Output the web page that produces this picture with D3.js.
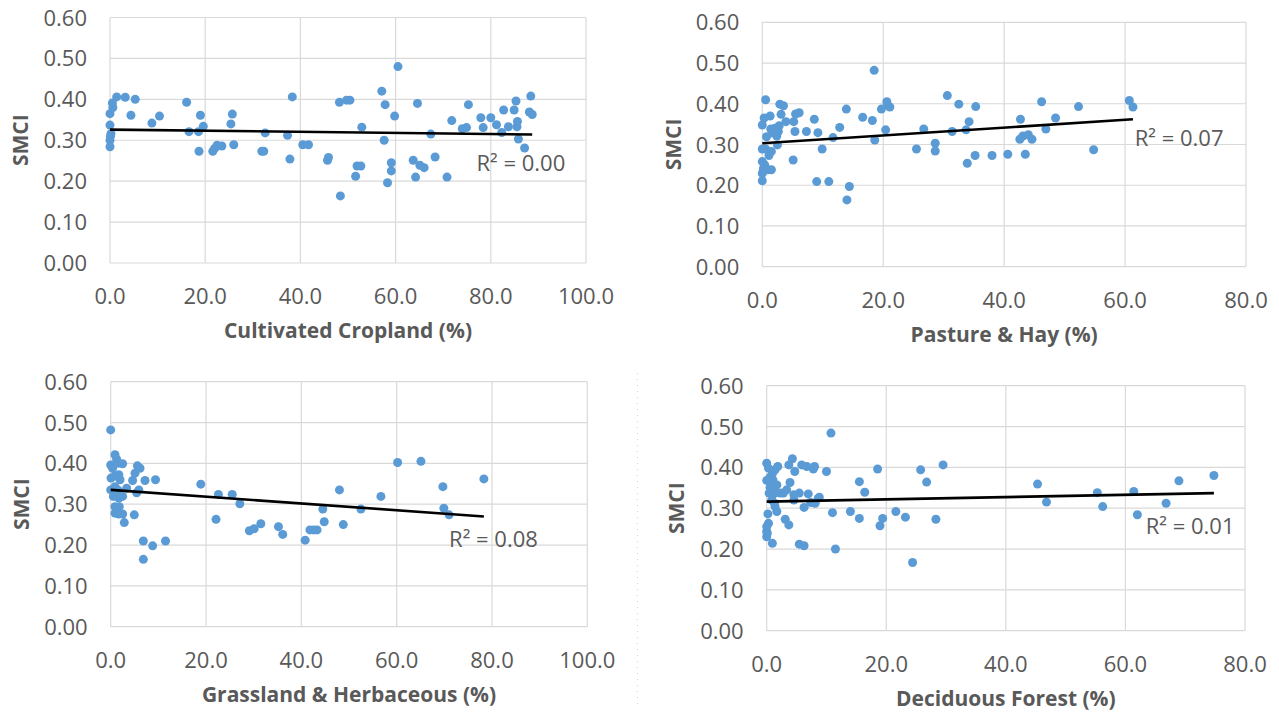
<!DOCTYPE html>
<meta charset="utf-8">
<script src="https://d3js.org/d3.v7.min.js"></script>
<style>
  body { margin: 0; background: #fff; }
  svg text { font-family: "Open Sans", sans-serif; fill: #595959; }
  .grid line { stroke: #d9d9d9; stroke-width: 1.2; }
  .tick-label { font-size: 22px; }
  .axis-title { font-size: 21px; font-weight: bold; }
  .r2 { font-size: 22px; }
</style>
<svg width="1279" height="712"></svg>
<script>
// values
var croplandPct = [0, 0, 0.1, 0.2, 0, 0, 0.6, 0.5, 1.4, 3.2, 4.4, 5.3, 8.8, 10.4, 16.1, 16.6, 18.6, 18.7, 19.0, 19.6,
  21.6, 22.0, 22.5, 23.5, 25.4, 25.7, 26.0, 31.9, 32.3, 32.6, 37.3, 37.8, 38.3, 40.5, 41.7, 45.7, 45.9, 48.2, 48.4, 49.7,
  50.4, 51.6, 51.9, 52.7, 52.9, 57.1, 57.6, 57.8, 58.3, 59.1, 59.1, 59.8, 60.5, 63.7, 64.2, 64.6, 65.1, 66.0, 67.4, 68.3,
  70.8, 71.8, 74.0, 74.9, 75.3, 77.9, 78.4, 80.0, 81.2, 82.3, 82.7, 83.7, 84.9, 85.3, 85.6, 85.5, 85.8, 87.1, 88.1, 88.7, 88.4];
var croplandSmci = [0.284, 0.300, 0.310, 0.316, 0.337, 0.365, 0.380, 0.391, 0.406, 0.405, 0.361, 0.400, 0.342, 0.359, 0.393, 0.321, 0.321, 0.273, 0.361, 0.334,
  0.273, 0.280, 0.288, 0.286, 0.340, 0.364, 0.289, 0.273, 0.273, 0.318, 0.312, 0.254, 0.406, 0.289, 0.289, 0.251, 0.258, 0.393, 0.164, 0.398,
  0.398, 0.212, 0.237, 0.237, 0.332, 0.420, 0.300, 0.387, 0.196, 0.245, 0.225, 0.359, 0.480, 0.251, 0.210, 0.390, 0.239, 0.233, 0.315, 0.259,
  0.210, 0.348, 0.328, 0.331, 0.387, 0.355, 0.331, 0.355, 0.338, 0.319, 0.374, 0.333, 0.374, 0.396, 0.346, 0.333, 0.303, 0.281, 0.369, 0.363, 0.408];

var pasturePct = [0.55, 0, 0.3, 1.3, 0.7, 1.4, 2.1, 0, 0.55, 1.5, 1.1, 0, 0.4, 0, 0.2, 0.9, 1.5, 0, 2.5, 2.4,
  2.65, 2.8, 2.9, 3.5, 3.1, 3.9, 5.2, 5.1, 5.4, 5.5, 6.1, 7.3, 8.6, 9.2, 9.0, 9.9, 11.0, 11.7, 12.8, 13.9,
  14.0, 14.4, 16.6, 18.2, 18.5, 18.6, 19.7, 20.4, 20.6, 20.7, 21.1, 25.5, 26.7, 28.6, 28.6, 30.6, 31.4, 32.5, 33.9, 33.7,
  34.2, 35.2, 35.3, 38.0, 40.6, 42.6, 42.7, 43.1, 43.5, 44.0, 44.6, 46.2, 46.9, 48.5, 52.3, 54.8, 60.7, 61.3, 1.8, 0.2];
var pastureSmci = [0.410, 0.348, 0.365, 0.370, 0.319, 0.338, 0.340, 0.289, 0.289, 0.283, 0.273, 0.258, 0.250, 0.229, 0.238, 0.238, 0.238, 0.211, 0.299, 0.321,
  0.332, 0.346, 0.399, 0.395, 0.374, 0.356, 0.356, 0.262, 0.332, 0.375, 0.378, 0.332, 0.362, 0.329, 0.209, 0.289, 0.209, 0.317, 0.342, 0.387,
  0.164, 0.197, 0.367, 0.359, 0.482, 0.311, 0.387, 0.336, 0.405, 0.397, 0.392, 0.289, 0.338, 0.303, 0.284, 0.420, 0.332, 0.399, 0.254, 0.336,
  0.356, 0.273, 0.393, 0.273, 0.276, 0.313, 0.362, 0.321, 0.276, 0.324, 0.313, 0.405, 0.338, 0.365, 0.393, 0.287, 0.408, 0.392, 0.328, 0.242];

var grasslandPct = [0, 0, 0.4, 0.9, 1.25, 1.6, 2.5, 0.06, 0.9, 1.7, 1.95, 0, 0.9, 1.5, 0.55, 1.7, 2.5, 0.9, 1.8, 0.9,
  1.7, 2.5, 2.85, 3.35, 4.6, 5.1, 5.6, 6.15, 5.45, 5.9, 4.95, 7.2, 6.85, 6.85, 8.8, 9.4, 11.5, 18.9, 22.1, 22.6,
  25.5, 27.1, 29.1, 30.1, 31.5, 35.2, 36.1, 40.8, 41.8, 42.6, 43.3, 44.5, 44.8, 48.0, 48.8, 52.5, 56.7, 60.2, 65.1, 69.7,
  69.9, 71.0, 78.3];
var grasslandSmci = [0.482, 0.396, 0.388, 0.421, 0.410, 0.400, 0.399, 0.364, 0.369, 0.372, 0.360, 0.335, 0.343, 0.335, 0.319, 0.315, 0.319, 0.294, 0.294, 0.278,
  0.276, 0.276, 0.255, 0.339, 0.358, 0.376, 0.394, 0.388, 0.328, 0.335, 0.274, 0.358, 0.210, 0.165, 0.198, 0.360, 0.210, 0.349, 0.263, 0.324,
  0.324, 0.301, 0.235, 0.240, 0.252, 0.245, 0.226, 0.212, 0.237, 0.237, 0.237, 0.288, 0.257, 0.335, 0.250, 0.288, 0.319, 0.402, 0.405, 0.343,
  0.290, 0.274, 0.362];

var deciduousPct = [0, 0.3, 0, 0.55, 1.0, 1.4, 1.85, 0.55, 1.0, 0.4, 1.0, 1.7, 1.6, 0.85, 1.4, 1.7, 0.2, 0.3, 0, 0,
  0, 0.1, 0.95, 2.8, 3.35, 3.9, 3.7, 4.3, 4.7, 3.1, 3.7, 4.55, 4.55, 5.45, 5.85, 6.7, 6.25, 5.45, 6.25, 6.95,
  7.35, 7.8, 8.0, 8.1, 8.6, 8.8, 10.0, 10.75, 11.0, 11.5, 14.0, 15.5, 15.5, 16.4, 18.55, 18.95, 19.4, 21.6, 23.2, 24.4,
  25.75, 26.75, 28.3, 29.5, 45.3, 46.8, 55.3, 56.2, 61.4, 62.0, 66.8, 68.95, 74.8, 1.05, 1.3, 2.3, 1.3];
var deciduousSmci = [0.410, 0.398, 0.368, 0.376, 0.386, 0.394, 0.402, 0.351, 0.355, 0.337, 0.333, 0.357, 0.338, 0.320, 0.304, 0.292, 0.286, 0.263, 0.255, 0.243,
  0.230, 0.238, 0.214, 0.337, 0.345, 0.363, 0.406, 0.421, 0.390, 0.273, 0.259, 0.333, 0.320, 0.337, 0.406, 0.402, 0.302, 0.212, 0.208, 0.335,
  0.314, 0.396, 0.402, 0.312, 0.324, 0.327, 0.390, 0.484, 0.289, 0.200, 0.292, 0.365, 0.275, 0.339, 0.396, 0.257, 0.275, 0.292, 0.278, 0.167,
  0.394, 0.364, 0.273, 0.406, 0.359, 0.315, 0.338, 0.304, 0.341, 0.284, 0.312, 0.367, 0.380, 0.369, 0.349, 0.337, 0.312];

// linear trend lines: SMCI at the smallest and at the largest x of each series
var trendStartSmci = [0.326, 0.303, 0.335, 0.316];
var trendEndSmci = [0.314, 0.362, 0.270, 0.337];

var xTitles = ["Cultivated Cropland (%)", "Pasture & Hay (%)", "Grassland & Herbaceous (%)", "Deciduous Forest (%)"];
var r2Labels = ["R² = 0.00", "R² = 0.07", "R² = 0.08", "R² = 0.01"];
var xTicks100 = [0, 20, 40, 60, 80, 100];
var xTicks80 = [0, 20, 40, 60, 80];
var yTicks = [0, 0.1, 0.2, 0.3, 0.4, 0.5, 0.6];

// plot-area boxes and label anchors (data units) for the four panels
var panels = [
  { xs: croplandPct, ys: croplandSmci, ticks: xTicks100, l: 110, r: 586, t: 17.5, b: 263, titleX: 21, r2At: [77.0, 0.225] },
  { xs: pasturePct, ys: pastureSmci, ticks: xTicks80, l: 762.3, r: 1246, t: 22.3, b: 266.7, titleX: 674, r2At: [61.6, 0.297] },
  { xs: grasslandPct, ys: grasslandSmci, ticks: xTicks100, l: 110.7, r: 587.3, t: 381.7, b: 626.7, titleX: 21.5, r2At: [71.0, 0.196] },
  { xs: deciduousPct, ys: deciduousSmci, ticks: xTicks80, l: 766.7, r: 1245, t: 385.7, b: 630.7, titleX: 676.5, r2At: [63.4, 0.237] }
];

var svg = d3.select("svg");

// faint divider seen between the lower panels
svg.append("line")
  .attr("x1", 637.5).attr("x2", 637.5)
  .attr("y1", 373).attr("y2", 705)
  .attr("stroke", "#d6d6d6")
  .attr("stroke-dasharray", "1,5");

panels.forEach(function(p, i) {
  var x = d3.scaleLinear().domain([0, d3.max(p.ticks)]).range([p.l, p.r]);
  var y = d3.scaleLinear().domain([0, 0.6]).range([p.b, p.t]);
  var g = svg.append("g");

  var grid = g.append("g").attr("class", "grid");
  grid.selectAll(".h").data(yTicks).enter().append("line")
    .attr("x1", p.l).attr("x2", p.r)
    .attr("y1", function(d) { return y(d); }).attr("y2", function(d) { return y(d); });
  grid.selectAll(".v").data(p.ticks).enter().append("line")
    .attr("y1", p.t).attr("y2", p.b)
    .attr("x1", function(d) { return x(d); }).attr("x2", function(d) { return x(d); });

  g.selectAll(".ylab").data(yTicks).enter().append("text")
    .attr("class", "tick-label")
    .attr("x", p.l - 23)
    .attr("y", function(d) { return y(d) + 8; })
    .attr("text-anchor", "end")
    .text(d3.format(".2f"));

  g.selectAll(".xlab").data(p.ticks).enter().append("text")
    .attr("class", "tick-label")
    .attr("x", function(d) { return x(d); })
    .attr("y", p.b + 41)
    .attr("text-anchor", "middle")
    .text(d3.format(".1f"));

  g.append("text")
    .attr("class", "axis-title")
    .attr("x", (p.l + p.r) / 2)
    .attr("y", p.b + 75)
    .attr("text-anchor", "middle")
    .text(xTitles[i]);

  g.append("text")
    .attr("class", "axis-title")
    .attr("transform", "translate(" + (p.titleX + 7) + "," + ((p.t + p.b) / 2) + ") rotate(-90)")
    .attr("text-anchor", "middle")
    .text("SMCI");

  g.selectAll("circle").data(p.xs).enter().append("circle")
    .attr("cx", function(d) { return x(d); })
    .attr("cy", function(d, j) { return y(p.ys[j]); })
    .attr("r", 4.5)
    .attr("fill", "#5b9bd5");

  g.append("line")
    .attr("x1", x(d3.min(p.xs))).attr("y1", y(trendStartSmci[i]))
    .attr("x2", x(d3.max(p.xs))).attr("y2", y(trendEndSmci[i]))
    .attr("stroke", "#000")
    .attr("stroke-width", 2.6);

  g.append("text")
    .attr("class", "r2")
    .attr("x", x(p.r2At[0]))
    .attr("y", y(p.r2At[1]))
    .text(r2Labels[i]);
});
</script>
